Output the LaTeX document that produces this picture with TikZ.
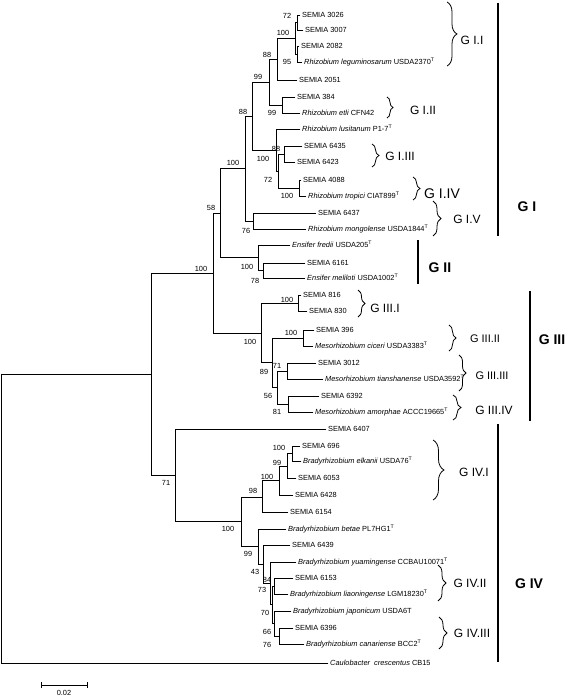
\documentclass[tikz,border=0pt]{standalone}
\usepackage{fontspec}
\setmainfont{Liberation Sans}
\usetikzlibrary{decorations.pathreplacing,arrows.meta}
\newcommand{\typestrain}{\textsuperscript{T}}

\begin{document}
\begin{tikzpicture}[x=1pt,y=-1pt,
branch/.style={line width=0.8pt,line cap=rect},
leaf/.style={anchor=west,inner sep=2pt,text height=5.3pt,text depth=0pt,font=\fontsize{7.4}{8}\selectfont},
boot/.style={inner sep=0pt,font=\fontsize{7.4}{8}\selectfont},
curly/.style={decorate,decoration={brace,amplitude=#1},line width=0.8pt},
sub/.style={inner sep=0pt,font=\fontsize{12}{14}\selectfont},
grp/.style={inner sep=0pt,font=\fontsize{14}{16}\selectfont\bfseries},
bar/.style={line width=1.2pt}]

\useasboundingbox (0,0) rectangle (568,698);

\coordinate (root) at (1,518.7);
\coordinate (n71) at (151,374.5);
\coordinate (n100d) at (213,273);
\coordinate (n58) at (220,213.1);
\coordinate (n100c) at (245,168.5);
\coordinate (n88b) at (252,116);
\coordinate (n99a) at (269,82.1);
\coordinate (n88a) at (277,59.25);
\coordinate (n100a) at (295,38.25);
\coordinate (n72) at (297,22.5);
\coordinate (n95) at (297,54);
\coordinate (n99b) at (282,105);
\coordinate (nLus) at (276,150);
\coordinate (nB) at (278,171);
\coordinate (n6435) at (284,154);
\coordinate (nTrop) at (299,188);
\coordinate (nMong) at (253,221);
\coordinate (nEns) at (258,257.75);
\coordinate (nMel) at (263,270.5);
\coordinate (nGIII) at (261,332.9);
\coordinate (n816) at (298,303);
\coordinate (n89) at (272,362.75);
\coordinate (n396) at (303,338);
\coordinate (n56) at (277,387.5);
\coordinate (n3012) at (287,371);
\coordinate (n6392) at (288,404);
\coordinate (nGIV) at (175,475.4);
\coordinate (n100e) at (241,521.8);
\coordinate (n98) at (262,497);
\coordinate (n100f) at (279,480);
\coordinate (n99c) at (287,466);
\coordinate (n100g) at (292,453.5);
\coordinate (n99d) at (258,546.6);
\coordinate (n43) at (263,564.2);
\coordinate (n84) at (270,583.4);
\coordinate (n73) at (272,604.75);
\coordinate (nLiao) at (274,586);
\coordinate (n70) at (274,623.5);
\coordinate (nCan) at (279,636);

\node[leaf] (s3026) at (300,15) {SEMIA 3026};
\node[leaf] (s3007) at (303,30) {SEMIA 3007};
\node[leaf] (s2082) at (299,46) {SEMIA 2082};
\node[leaf] (rleg) at (302,62) {\textit{Rhizobium leguminosarum} USDA2370\typestrain};
\node[leaf] (s2051) at (297,80) {SEMIA 2051};
\node[leaf] (s384) at (295,97) {SEMIA 384};
\node[leaf] (retl) at (300,113) {\textit{Rhizobium etli} CFN42};
\node[leaf] (rlus) at (300,129) {\textit{Rhizobium lusitanum} P1-7\typestrain};
\node[leaf] (s6435) at (302,146) {SEMIA 6435};
\node[leaf] (s6423) at (295,162) {SEMIA 6423};
\node[leaf] (s4088) at (301,180) {SEMIA 4088};
\node[leaf] (rtro) at (306,196) {\textit{Rhizobium tropici} CIAT899\typestrain};
\node[leaf] (s6437) at (316,213) {SEMIA 6437};
\node[leaf] (rmon) at (306,229) {\textit{Rhizobium mongolense} USDA1844\typestrain};
\node[leaf] (efre) at (290,245) {\textit{Ensifer fredii} USDA205\typestrain};
\node[leaf] (s6161) at (305,263) {SEMIA 6161};
\node[leaf] (emel) at (305,278) {\textit{Ensifer meliloti} USDA1002\typestrain};
\node[leaf] (s816) at (301,295) {SEMIA 816};
\node[leaf] (s830) at (307,311) {SEMIA 830};
\node[leaf] (s396) at (314,330) {SEMIA 396};
\node[leaf] (mcic) at (313,346) {\textit{Mesorhizobium ciceri} USDA3383\typestrain};
\node[leaf] (s3012) at (316,363) {SEMIA 3012};
\node[leaf] (mtia) at (323,379) {\textit{Mesorhizobium tianshanense} USDA3592\typestrain};
\node[leaf] (s6392) at (319,396) {SEMIA 6392};
\node[leaf] (mamo) at (313,412) {\textit{Mesorhizobium amorphae} ACCC19665\typestrain};
\node[leaf] (s6407) at (326,429) {SEMIA 6407};
\node[leaf] (s696) at (300,446) {SEMIA 696};
\node[leaf] (belk) at (301,461) {\textit{Bradyrhizobium elkanii} USDA76\typestrain};
\node[leaf] (s6053) at (296,478) {SEMIA 6053};
\node[leaf] (s6428) at (293,495) {SEMIA 6428};
\node[leaf] (s6154) at (288,512) {SEMIA 6154};
\node[leaf] (bbet) at (286,529) {\textit{Bradyrhizobium betae} PL7HG1\typestrain};
\node[leaf] (s6439) at (290,545) {SEMIA 6439};
\node[leaf] (byua) at (296,562) {\textit{Bradyrhizobium yuamingense} CCBAU10071\typestrain};
\node[leaf] (s6153) at (293,578) {SEMIA 6153};
\node[leaf] (blia) at (288,594) {\textit{Bradyrhizobium liaoningense} LGM18230\typestrain};
\node[leaf] (bjap) at (291,611) {\textit{Bradyrhizobium japonicum} USDA6T};
\node[leaf] (s6396) at (293,628) {SEMIA 6396};
\node[leaf] (bcan) at (304,644) {\textit{Bradyrhizobium canariense} BCC2\typestrain};
\node[leaf] (caulo) at (328,663) {\textit{Caulobacter\ \ crescentus} CB15};

\draw[branch] (root) |- (n71) (root) |- (caulo.west)
  (n71) |- (n100d) (n71) |- (nGIV)
  (n100d) |- (n58) (n100d) |- (nGIII)
  (n58) |- (n100c) (n58) |- (nEns)
  (n100c) |- (n88b) (n100c) |- (nMong)
  (n88b) |- (n99a) (n88b) |- (nLus)
  (n99a) |- (n88a) (n99a) |- (n99b)
  (n88a) |- (n100a) (n88a) |- (s2051.west)
  (n100a) |- (n72) (n100a) |- (n95)
  (n72) |- (s3026.west) (n72) |- (s3007.west)
  (n95) |- (s2082.west) (n95) |- (rleg.west)
  (n99b) |- (s384.west) (n99b) |- (retl.west)
  (nLus) |- (rlus.west) (nLus) |- (nB)
  (nB) |- (n6435) (nB) |- (nTrop)
  (n6435) |- (s6435.west) (n6435) |- (s6423.west)
  (nTrop) |- (s4088.west) (nTrop) |- (rtro.west)
  (nMong) |- (s6437.west) (nMong) |- (rmon.west)
  (nEns) |- (efre.west) (nEns) |- (nMel)
  (nMel) |- (s6161.west) (nMel) |- (emel.west)
  (nGIII) |- (n816) (nGIII) |- (n89)
  (n816) |- (s816.west) (n816) |- (s830.west)
  (n89) |- (n396) (n89) |- (n56)
  (n396) |- (s396.west) (n396) |- (mcic.west)
  (n56) |- (n3012) (n56) |- (n6392)
  (n3012) |- (s3012.west) (n3012) |- (mtia.west)
  (n6392) |- (s6392.west) (n6392) |- (mamo.west)
  (nGIV) |- (s6407.west) (nGIV) |- (n100e)
  (n100e) |- (n98) (n100e) |- (n99d)
  (n98) |- (n100f) (n98) |- (s6154.west)
  (n100f) |- (n99c) (n100f) |- (s6428.west)
  (n99c) |- (n100g) (n99c) |- (s6053.west)
  (n100g) |- (s696.west) (n100g) |- (belk.west)
  (n99d) |- (bbet.west) (n99d) |- (n43)
  (n43) |- (s6439.west) (n43) |- (n84)
  (n84) |- (byua.west) (n84) |- (n73)
  (n73) |- (nLiao) (n73) |- (n70)
  (nLiao) |- (s6153.west) (nLiao) |- (blia.west)
  (n70) |- (bjap.west) (n70) |- (nCan)
  (nCan) |- (s6396.west) (nCan) |- (bcan.west);

\node[boot] (b1) at (287,16) {72};
\node[boot] (b2) at (283,33) {100};
\node[boot] (b3) at (287,62) {95};
\node[boot] (b4) at (267,55) {88};
\node[boot] (b5) at (258,77) {99};
\node[boot] (b6) at (272,113) {99};
\node[boot] (b7) at (243,112) {88};
\node[boot] (b8) at (276,149) {88};
\node[boot] (b9) at (263,159) {100};
\node[boot] (b10) at (268,180) {72};
\node[boot] (b11) at (287,196) {100};
\node[boot] (b12) at (233,163) {100};
\node[boot] (b13) at (246,231) {76};
\node[boot] (b14) at (211,208) {58};
\node[boot] (b15) at (247,267) {100};
\node[boot] (b16) at (255,281) {78};
\node[boot] (b17) at (201,269) {100};
\node[boot] (b18) at (287,300) {100};
\node[boot] (b19) at (291,333) {100};
\node[boot] (b20) at (250,342) {100};
\node[boot] (b21) at (264,372) {89};
\node[boot] (b22) at (277,366) {71};
\node[boot] (b23) at (268,396) {56};
\node[boot] (b24) at (277,412) {81};
\node[boot] (b25) at (166,483) {71};
\node[boot] (b26) at (279,448) {100};
\node[boot] (b27) at (277,463) {99};
\node[boot] (b28) at (267,477) {100};
\node[boot] (b29) at (253,491) {98};
\node[boot] (b30) at (228,529) {100};
\node[boot] (b31) at (248,554) {99};
\node[boot] (b32) at (255,572) {43};
\node[boot] (b33) at (267,580) {84};
\node[boot] (b34) at (262,590) {73};
\node[boot] (b35) at (265,613) {70};
\node[boot] (b36) at (267,632) {66};
\node[boot] (b37) at (267,645) {76};

\draw[curly=10pt] (447,2) -- (447,66);
\draw[curly=6pt] (387,97) -- (387,118);
\draw[curly=7pt] (372,144) -- (372,167);
\draw[curly=7pt] (413,177) -- (413,200);
\draw[curly=8pt] (433,201) -- (433,236);
\draw[curly=7pt] (358,290) -- (358,317);
\draw[curly=7pt] (449,325) -- (449,351);
\draw[curly=7pt] (459,355) -- (459,391);
\draw[curly=8pt] (453,395) -- (453,420);
\draw[curly=11pt] (433,440) -- (433,500);
\draw[curly=8pt] (438,565) -- (438,601);
\draw[curly=8pt] (439,617) -- (439,649);

\node[sub] (gI1) at (472,40) {G I.I};
\node[sub] (gI2) at (423,110) {G I.II};
\node[sub] (gI3) at (400,156) {G I.III};
\node[sub,font=\fontsize{14}{16}\selectfont] (gI4) at (442,194) {G I.IV};
\node[sub] (gI5) at (467,219) {G I.V};
\node[sub] (gIII1) at (385,308) {G III.I};
\node[sub,font=\fontsize{11}{13}\selectfont] (gIII2) at (485,339) {G III.II};
\node[sub,font=\fontsize{11}{13}\selectfont] (gIII3) at (492,376) {G III.III};
\node[sub] (gIII4) at (494,410) {G III.IV};
\node[sub] (gIV1) at (474,472) {G IV.I};
\node[sub] (gIV2) at (470,583) {G IV.II};
\node[sub] (gIV3) at (472,633) {G IV.III};

\draw[bar] (498,3) -- (498,236);
\draw[bar] (418,240) -- (418,284);
\draw[bar] (530,291) -- (530,421);
\draw[bar] (498,424) -- (498,662);
\node[grp] (gI) at (527,207) {G I};
\node[grp] (gII) at (440,268) {G II};
\node[grp] (gIII) at (552,340) {G III};
\node[grp] (gIV) at (529,584) {G IV};

\coordinate (s0) at (41,685);
\coordinate (s1) at (88,685);
\draw[line width=0.8pt,{Bar[width=6pt]}-{Bar[width=6pt]}] (s0) -- (s1);
\node[boot] (scl) at (64,693) {0.02};

\end{tikzpicture}
\end{document}
